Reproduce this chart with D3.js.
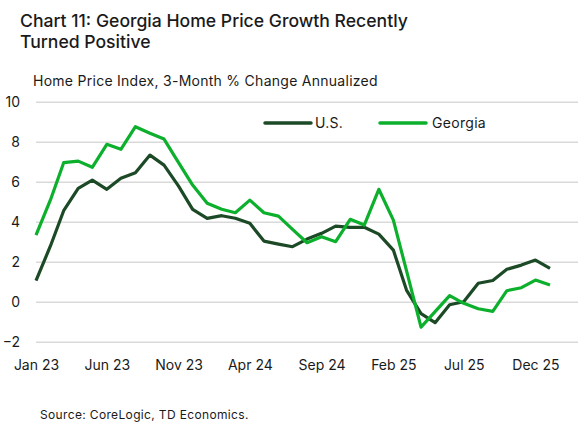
<!DOCTYPE html>
<html>
<head>
<meta charset="utf-8">
<script src="https://cdn.jsdelivr.net/npm/d3@7"></script>
<style>
  body { margin: 0; background: #fff; }
  text { font-family: Inter, "Noto Sans", sans-serif; fill: #1a1a1a; }
</style>
</head>
<body>
<div id="container"></div>
<script>
/* CONSTANTS AND GLOBALS */
const width = 579,
  height = 432,
  margin = { top: 102, bottom: 90, left: 36, right: 29 };

/* DATA */
// monthly, Jan 2023 .. Jan 2026
const months = d3.timeMonth.range(new Date(2023, 0, 1), new Date(2026, 1, 1));
const usValues = [1.05, 2.8, 4.55, 5.67, 6.08, 5.62, 6.17, 6.45, 7.33, 6.83, 5.78, 4.62,
  4.17, 4.3, 4.17, 3.92, 3.03, 2.88, 2.75, 3.13, 3.42, 3.78, 3.72, 3.72,
  3.38, 2.58, 0.58, -0.6, -1.05, -0.15, 0.0, 0.92, 1.06, 1.62, 1.83, 2.08, 1.67];
const gaValues = [3.33, 5.1, 6.95, 7.03, 6.72, 7.87, 7.62, 8.75, 8.42, 8.13, 6.95, 5.83,
  4.92, 4.62, 4.45, 5.08, 4.45, 4.28, 3.62, 2.95, 3.25, 3.0, 4.12, 3.83,
  5.62, 4.08, 1.55, -1.27, -0.5, 0.3, -0.08, -0.35, -0.48, 0.55, 0.7, 1.08, 0.83];
const yTicks = [-2, 0, 2, 4, 6, 8, 10];
const xTickDates = [new Date(2023, 0, 1), new Date(2023, 5, 1), new Date(2023, 10, 1),
  new Date(2024, 3, 1), new Date(2024, 8, 1), new Date(2025, 1, 1),
  new Date(2025, 6, 1), new Date(2025, 11, 1)];
const seriesNames = ["U.S.", "Georgia"];
const colors = ["#1c4a27", "#0db02c"];

/* SCALES */
const xScale = d3.scaleTime()
  .domain([months[0], months[months.length - 1]])
  .range([margin.left, 550]);

const yScale = d3.scaleLinear()
  .domain([-2, 10])
  .range([341.7, 101.7]);

/* SVG */
const svg = d3.select("#container")
  .append("svg")
  .attr("width", width)
  .attr("height", height);

// titles
svg.append("text")
  .attr("x", 20).attr("y", 27)
  .style("font-size", "17.6px").style("font-weight", 500)
  .text("Chart 11: Georgia Home Price Growth Recently");
svg.append("text")
  .attr("x", 20).attr("y", 48)
  .style("font-size", "17.6px").style("font-weight", 500)
  .text("Turned Positive");
svg.append("text")
  .attr("x", 33).attr("y", 86)
  .style("font-size", "14px")
  .style("letter-spacing", "0.27px")
  .text("Home Price Index, 3-Month % Change Annualized");

// gridlines + y axis
const yAxis = d3.axisLeft(yScale)
  .tickValues(yTicks)
  .tickSize(-(578 - margin.left))
  .tickPadding(16)
  .tickFormat(d3.format("d"));

const yAxisGroup = svg.append("g")
  .attr("transform", `translate(${margin.left},0)`)
  .call(yAxis);
yAxisGroup.select(".domain").remove();
yAxisGroup.selectAll(".tick line")
  .attr("stroke", "#d9d9d9")
  .attr("stroke-width", 1.5);
yAxisGroup.selectAll(".tick text")
  .style("font-size", "14px")
  .style("font-family", "Inter, sans-serif")
  .attr("fill", "#1a1a1a");

// x axis
const xAxis = d3.axisBottom(xScale)
  .tickValues(xTickDates)
  .tickSize(0)
  .tickPadding(0)
  .tickFormat(d3.timeFormat("%b %y"));

const xAxisGroup = svg.append("g")
  .attr("transform", `translate(0,360)`)
  .call(xAxis);
xAxisGroup.select(".domain").remove();
xAxisGroup.selectAll(".tick text")
  .style("font-size", "14px")
  .style("font-family", "Inter, sans-serif")
  .attr("fill", "#1a1a1a");

/* LINES */
const line = d3.line()
  .x((d, i) => xScale(months[i]))
  .y(d => yScale(d));

[usValues, gaValues].forEach((vals, k) => {
  svg.append("path")
    .datum(vals)
    .attr("fill", "none")
    .attr("stroke", colors[k])
    .attr("stroke-width", 3.2)
    .attr("stroke-linejoin", "round")
    .attr("d", line);
});

/* LEGEND */
const legendPos = [{ x: 265, tx: 315 }, { x: 380, tx: 432 }];
seriesNames.forEach((name, k) => {
  svg.append("line")
    .attr("x1", legendPos[k].x).attr("x2", legendPos[k].x + 46)
    .attr("y1", 123).attr("y2", 123)
    .attr("stroke", colors[k])
    .attr("stroke-width", 3.5)
    .attr("stroke-linecap", "round");
  svg.append("text")
    .attr("x", legendPos[k].tx).attr("y", 128)
    .style("font-size", "14px")
    .style("letter-spacing", "0.3px")
    .text(name);
});

/* SOURCE */
svg.append("text")
  .attr("x", 40).attr("y", 419)
  .style("font-size", "12px")
  .style("letter-spacing", "0.35px")
  .text("Source: CoreLogic, TD Economics.");
</script>
</body>
</html>
